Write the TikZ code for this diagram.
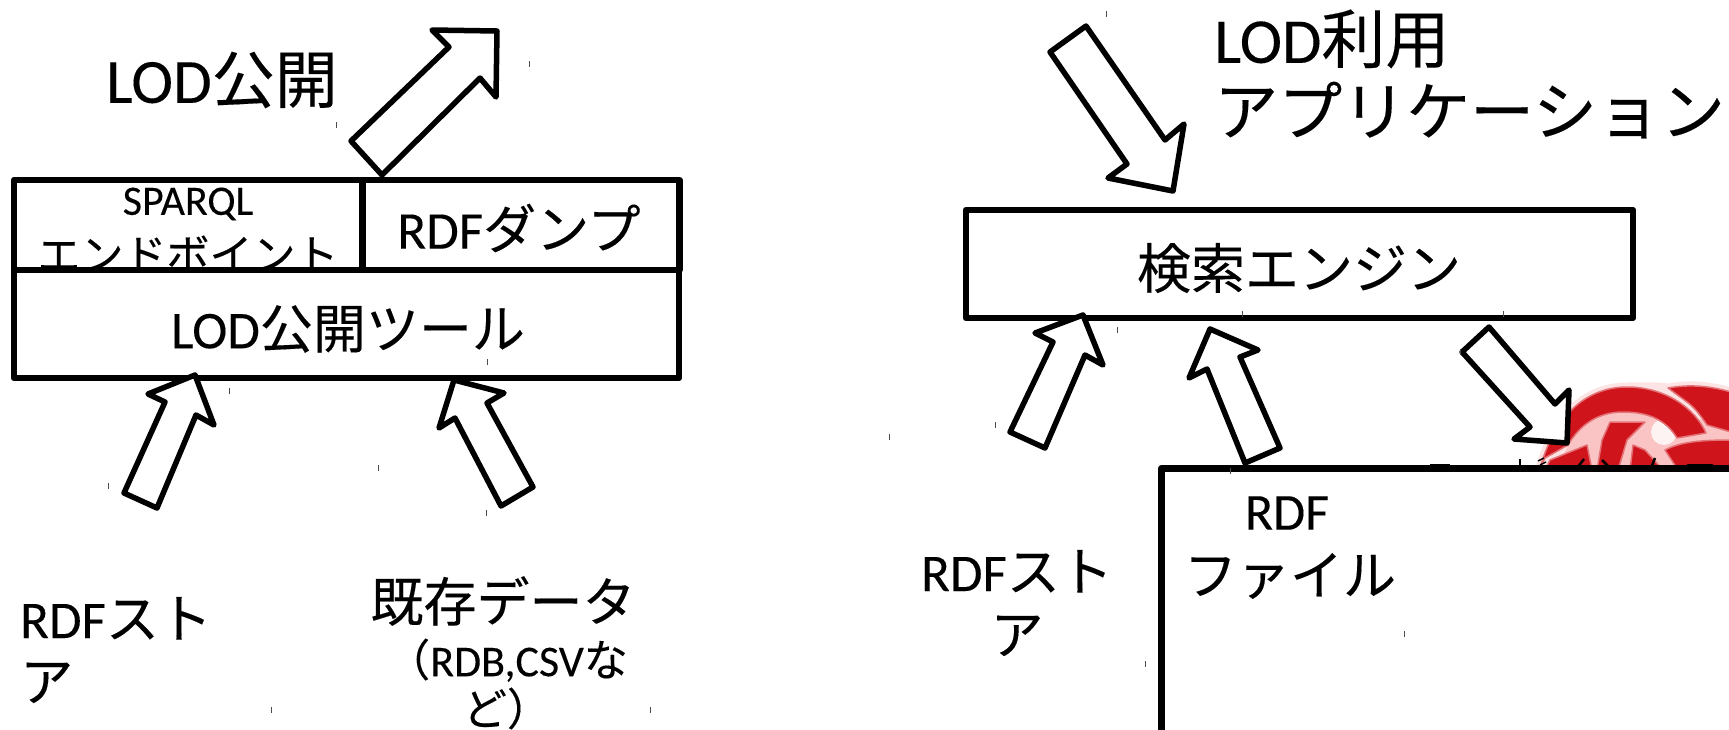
\documentclass[tikz,border=0pt]{standalone}
\usepackage{fontspec}
\setmainfont[FakeBold=0.15]{Carlito}
\newfontfamily\jp[FakeBold=0.25]{Noto Sans CJK JP}
\newcommand{\J}[1]{{\jp #1}}
\definecolor{logored}{HTML}{D0141C}
\definecolor{logopink}{HTML}{FBC4C4}
\begin{document}
\begin{tikzpicture}[x=1pt,y=-1pt,
  boxline/.style={draw=black,line width=6.5pt,line join=round},
  fatarrow/.style={draw=black,fill=white,line width=5.5pt,line join=round},
  lbl/.style={inner sep=0pt,align=center,text=black},
  tick/.style={draw=black!70,line width=1pt},
  logopart/.style={fill=logored,draw=logored!60!white,line width=1.5pt,line join=round},
  halo/.style={draw=logopink!45!white,fill=logopink!45!white,line width=9pt,line join=round},
  frag/.style={draw=black,line width=2.5pt}]
\useasboundingbox (0,0) rectangle (1729,729);
% logo
\begin{scope}
\clip (1520,370) rectangle (1729,468);
\path[halo] (1540,468) .. controls (1558,405) and (1595,387) .. (1627,387) .. controls (1640,387) and (1655,386) .. (1668,388) .. controls (1690,384) and (1710,386) .. (1731,392) -- (1731,470) -- cycle;
\fill[logopink] (1560,468) .. controls (1570,425) and (1600,405) .. (1627,405) .. controls (1660,405) and (1690,420) .. (1731,425) -- (1731,470) -- cycle;
\fill[white!80!logopink] (1664,432) circle (13);
\path[logopart] (1540,468) .. controls (1558,405) and (1595,387) .. (1627,387) .. controls (1665,387) and (1695,408) .. (1706,433) -- (1677,438) .. controls (1665,418) and (1645,412) .. (1623,412) .. controls (1595,412) and (1578,428) .. (1568,445) -- (1545,458) -- cycle;
\path[logopart] (1550,460) -- (1587,445) -- (1592,470) -- (1545,470) -- cycle;
\path[logopart] (1610,422) -- (1645,422) -- (1627,440) -- (1618,470) -- (1597,470) -- (1602,440) -- cycle;
\path[logopart] (1633,445) -- (1645,450) -- (1663,470) -- (1630,470) -- cycle;
\path[logopart] (1665,450) .. controls (1680,442) and (1700,440) .. (1731,440) -- (1731,470) -- (1678,470) -- cycle;
\path[logopart] (1668,388) .. controls (1690,384) and (1710,386) .. (1731,392) -- (1731,432) -- (1707,425) .. controls (1700,415) and (1695,408) .. (1687,402) -- cycle;
\end{scope}
% clipped line of text above the big box
\draw[frag,line width=3.5pt] (1430,466) -- (1450,466);
\draw[frag] (1520,459) -- (1520,468);
\draw[frag,line width=1.5pt] (1538,461) -- (1544,458);
\draw[frag,line width=1.5pt] (1540,465) -- (1546,462);
\draw[frag] (1577,468) -- (1584,459);
\draw[frag] (1602,460) -- (1610,468);
\draw[frag] (1651,468) -- (1655,458);
\draw[frag,line width=3pt] (1656,466) -- (1668,466);
\draw[frag,line width=4pt] (1687,466) -- (1713,466);
% left boxes
\begin{scope}
\clip (14,180) rectangle (362,270);
\node[lbl,font=\fontsize{43}{48}\selectfont] (sparqlb) at (188,254) {\J{エンドボイント}};
\end{scope}
\node[boxline,minimum width=348pt,minimum height=90pt] (sparql) at (188,225) {};
\node[boxline,minimum width=317pt,minimum height=90pt] (dump) at (521,225) {};
\node[boxline,minimum width=665pt,minimum height=108pt] (tool) at (346.5,324) {};
\node[lbl,font=\fontsize{42}{48}\selectfont] (sparqla) at (188,204) {SPARQL};
\node[lbl,font=\fontsize{53}{60}\selectfont] (dumpt) at (519,228) {RDF\J{ダンプ}};
\node[lbl,font=\fontsize{53}{60}\selectfont] (toolt) at (348,329) {LOD\J{公開ツール}};
\node[lbl,font=\fontsize{63}{68}\selectfont] (pub) at (222,80) {LOD\J{公開}};
\draw[fatarrow] (432,30) -- (497,31) -- (496,97) -- (480,78) -- (382,175) -- (351,141) -- (449,47) -- cycle;
\draw[fatarrow] (195,375) -- (214,425) -- (196,415) -- (157,508) -- (124,493) -- (165,402) -- (148,394) -- cycle;
\draw[fatarrow] (454,380) -- (504,393) -- (487,403) -- (533,487) -- (501,506) -- (455,418) -- (439,428) -- cycle;
\node[lbl,font=\fontsize{53}{63}\selectfont,align=left,anchor=west] (store1) at (20,650) {RDF\J{スト}\\\J{ア}};
\node[lbl,font=\fontsize{53}{60}\selectfont] (exist) at (503,601) {\J{既存データ}};
\node[lbl,font=\fontsize{44}{49}\selectfont] (exist2) at (507,684) {\J{（}RDB,CSV\J{な}\\\J{ど）}};
% right
\node[boxline,minimum width=667pt,minimum height=108pt] (search) at (1299.5,264) {};
\node[lbl,font=\fontsize{54}{60}\selectfont] (searcht) at (1299,268) {\J{検索エンジン}};
\node[lbl,font=\fontsize{64}{72}\selectfont,align=left,anchor=west] (lodapp) at (1214,74) {LOD\J{利用}\\\J{アプリケーション}};
\draw[fatarrow] (1086,26) -- (1050,52) -- (1127,164) -- (1108,178) -- (1173,191) -- (1184,124) -- (1165,140) -- cycle;
\draw[fatarrow] (1083,315) -- (1103,365) -- (1085,355) -- (1045,448) -- (1010,432) -- (1053,342) -- (1035,333) -- cycle;
\draw[fatarrow] (1489,327) -- (1462,352) -- (1530,427) -- (1514,439) -- (1567,443) -- (1569,390) -- (1555,404) -- cycle;
\node[boxline,fill=white,anchor=north west,minimum width=700pt,minimum height=400pt] (big) at (1158,465) {};
\draw[fatarrow] (1210,329) -- (1258,350) -- (1240,357) -- (1280,448) -- (1245,463) -- (1207,369) -- (1189,378) -- cycle;
\node[lbl,font=\fontsize{52}{60}\selectfont] (rdf) at (1287,513) {RDF};
\node[lbl,font=\fontsize{53}{60}\selectfont] (file) at (1290,576) {\J{ファイル}};
\node[lbl,font=\fontsize{53}{63}\selectfont] (store2) at (1017,603) {RDF\J{スト}\\\J{ア}};
% ticks
\foreach \x/\y in {529/64,336/125,487/362,229/391,108/486,378/468,486/513,271/710,650/710,1106/14,1117/330,995/425,889/437,1145/664,1404/634,1230/471,1242/314,1503/314,1460/352}
  \draw[tick] (\x,\y-3) -- (\x,\y+3);
\end{tikzpicture}
\end{document}
